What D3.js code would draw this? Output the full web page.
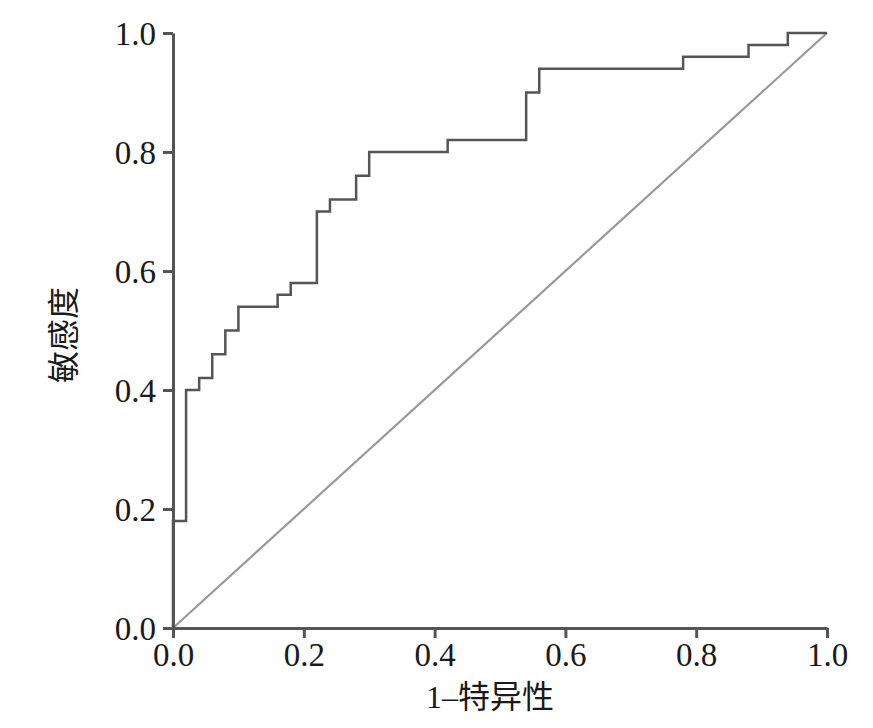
<!DOCTYPE html>
<html><head><meta charset="utf-8">
<script src="https://cdn.jsdelivr.net/npm/d3@7"></script>
<style>body{margin:0;background:#fff}</style>
</head><body>
<svg id="c" width="873" height="728"></svg>
<script>
const fpr = [0, 0, 0.02, 0.02, 0.04, 0.04, 0.06, 0.06, 0.08, 0.08, 0.10, 0.10, 0.16, 0.16, 0.18, 0.18, 0.22, 0.22, 0.24, 0.24, 0.28, 0.28, 0.30, 0.30, 0.42, 0.42, 0.54, 0.54, 0.56, 0.56, 0.78, 0.78, 0.88, 0.88, 0.94, 0.94, 1.0];
const tpr = [0, 0.18, 0.18, 0.40, 0.40, 0.42, 0.42, 0.46, 0.46, 0.50, 0.50, 0.54, 0.54, 0.56, 0.56, 0.58, 0.58, 0.70, 0.70, 0.72, 0.72, 0.76, 0.76, 0.80, 0.80, 0.82, 0.82, 0.90, 0.90, 0.94, 0.94, 0.96, 0.96, 0.98, 0.98, 1.0, 1.0];
const ticks = [0, 0.2, 0.4, 0.6, 0.8, 1.0];
const xTitle = "1–特异性";
const yTitle = "敏感度";

const svg = d3.select("#c");
const x = d3.scaleLinear().domain([0, 1]).range([173, 827]);
const y = d3.scaleLinear().domain([0, 1]).range([628, 33]);
const font = "'Liberation Serif','Times New Roman','Noto Sans CJK SC',serif";

// diagonal reference
svg.append("line")
  .attr("x1", x(0)).attr("y1", y(0)).attr("x2", x(1)).attr("y2", y(1))
  .attr("stroke", "#999").attr("stroke-width", 2.2);

// ROC step curve
const pts = fpr.map((f, i) => [f, tpr[i]]);
svg.append("path")
  .attr("d", d3.line().x(d => x(d[0])).y(d => y(d[1]))(pts))
  .attr("fill", "none").attr("stroke", "#555").attr("stroke-width", 2.5);

// axes
const xAxis = svg.append("g").attr("transform", `translate(0,${y(0)})`)
  .call(d3.axisBottom(x).tickValues(ticks).tickFormat(d3.format(".1f")).tickSize(10).tickSizeOuter(0));
const yAxis = svg.append("g").attr("transform", `translate(${x(0)},0)`)
  .call(d3.axisLeft(y).tickValues(ticks).tickFormat(d3.format(".1f")).tickSize(10).tickSizeOuter(0));
[xAxis, yAxis].forEach(g => {
  g.select(".domain").attr("stroke", "#555").attr("stroke-width", 3);
  g.selectAll(".tick line").attr("stroke", "#555").attr("stroke-width", 3);
  g.selectAll(".tick text").attr("fill", "#1a1a1a")
    .style("font-family", font).style("font-size", "33px");
});
xAxis.selectAll(".tick text").attr("y", 15).attr("dy", "0.71em");
yAxis.selectAll(".tick text").attr("x", -17).attr("dy", "0.34em");

svg.append("text").attr("x", 490).attr("y", 708).attr("text-anchor", "middle")
  .style("font-family", font).style("font-size", "32px").attr("fill", "#1a1a1a")
  .text(xTitle);
svg.append("text").attr("transform", "translate(75,335) rotate(-90)").attr("text-anchor", "middle")
  .style("font-family", font).style("font-size", "32px").attr("fill", "#1a1a1a")
  .text(yTitle);
</script>
</body></html>
